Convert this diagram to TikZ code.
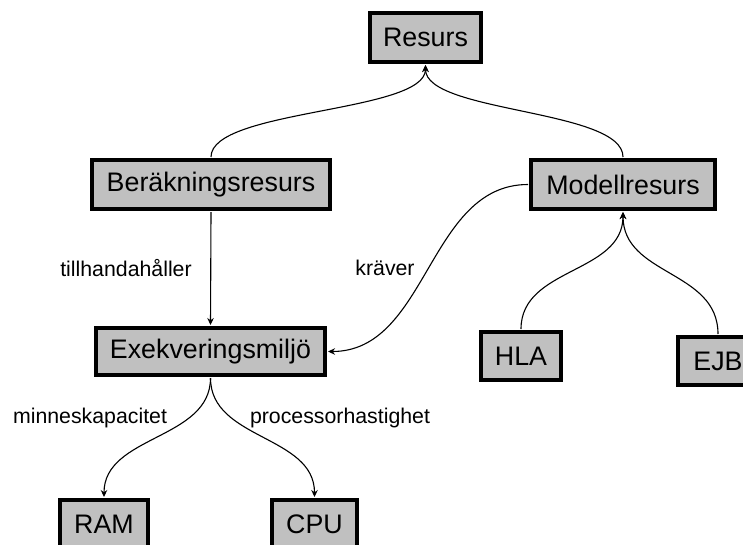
\documentclass[tikz,border=0pt]{standalone}
\usepackage{fontspec}
\setmainfont{Liberation Sans}
\usetikzlibrary{arrows.meta}
\definecolor{boxgray}{HTML}{C0C0C0}
\tikzset{
  concept/.style={draw=black, line width=3.2pt, fill=boxgray, inner sep=0pt,
    font=\fontsize{26.8}{30}\selectfont, text=black, outer sep=3pt},
  rel/.style={draw=black, line width=1.1pt, -{Stealth[length=7pt,width=6.5pt]}},
  lbl/.style={font=\fontsize{21.3}{24}\selectfont, text=black, inner sep=0pt}
}
\begin{document}
\begin{tikzpicture}[x=1pt,y=-1pt]
\useasboundingbox (0,0) rectangle (743,544);
\fill[white] (0,0) rectangle (743,544);
\clip (0,0) rectangle (743,544);

% concepts
\node[concept, minimum width=111pt, minimum height=49pt] (res) at (425.5,37.5) {Resurs};
\node[concept, minimum width=238pt, minimum height=49pt] (ber) at (211,184.5) {Beräkningsresurs};
\node[concept, minimum width=184pt, minimum height=49pt] (mod) at (623,184.5) {Modellresurs};
\node[concept, minimum width=229pt, minimum height=47pt] (exe) at (210.5,351.5) {Exekveringsmiljö};
\node[concept, minimum width=80pt, minimum height=48pt] (hla) at (521,356) {HLA};
\node[concept, minimum width=80pt, minimum height=48pt] (ejb) at (718,361) {EJB};
\node[concept, minimum width=88pt, minimum height=48pt] (ram) at (104,524) {RAM};
\node[concept, minimum width=85pt, minimum height=48pt] (cpu) at (314.5,524) {CPU};

% specialisations
\draw[rel] (ber.north) .. controls +(0,-48) and +(0,48) .. (res.south);
\draw[rel] (mod.north) .. controls +(0,-48) and +(0,48) .. (res.south);
\draw[rel] (hla.north) .. controls +(0,-62) and +(0,62) .. (mod.south);
\draw[rel] (ejb.north) .. controls +(0,-64) and +(0,64) .. (mod.south);

% relations
\draw[rel] (ber.south) -- (exe.north);
\draw[rel] (mod.west) .. controls +(-100,0) and +(100,0) .. (exe.east);
\draw[rel] (exe.south) .. controls +(0,62) and +(0,-62) .. (ram.north);
\draw[rel] (exe.south) .. controls +(0,62) and +(0,-62) .. (cpu.north);

% relation labels
\node[lbl] (l1) at (126,268) {tillhandahåller};
\node[lbl] (l2) at (385,268) {kräver};
\node[lbl] (l3) at (90,418) {minneskapacitet};
\node[lbl] (l4) at (340,418) {processorhastighet};
\end{tikzpicture}
\end{document}
